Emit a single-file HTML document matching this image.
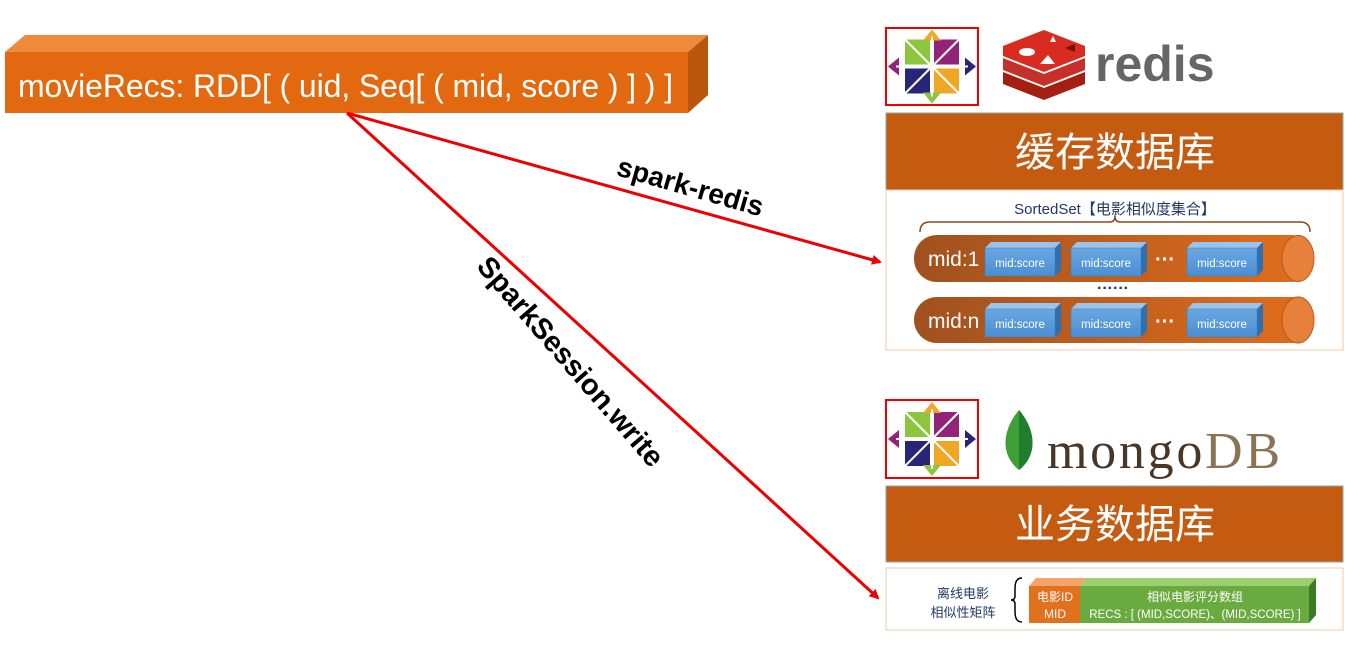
<!DOCTYPE html>
<html><head><meta charset="utf-8">
<style>
body{margin:0;width:1363px;height:652px;background:#fff;position:relative;overflow:hidden;font-family:"Liberation Sans","Noto Sans CJK SC",sans-serif}
.abs{position:absolute}
</style></head><body>
<svg class="abs" style="left:0;top:0" width="1363" height="652">
<defs>
<marker id="ah" markerWidth="10" markerHeight="10" refX="8" refY="5" orient="auto" markerUnits="userSpaceOnUse"><path d="M0,0 L10,5 L0,10 Z" fill="#e00"/></marker>
<linearGradient id="cyl" x1="0" x2="1"><stop offset="0" stop-color="#a0511e"/><stop offset="1" stop-color="#e26d1c"/></linearGradient>
<linearGradient id="blu" x1="0" y1="0" x2="0" y2="1"><stop offset="0" stop-color="#6aa7e0"/><stop offset="1" stop-color="#4a8fd4"/></linearGradient>
</defs>
<g>
<polygon points="5,52 25,35 708,35 688,52" fill="#ee8a3a"/>
<polygon points="688,52 708,35 708,95 688,113" fill="#b9570e"/>
<rect x="5" y="52" width="683" height="61" fill="#e2690f"/>
<text x="18" y="97" fill="#fff" font-size="32" textLength="655" font-family="Liberation Sans, sans-serif">movieRecs: RDD[ ( uid, Seq[ ( mid, score ) ] ) ]</text>
</g>
<line x1="347" y1="113" x2="880" y2="262" stroke="#e00" stroke-width="3" marker-end="url(#ah)"/>
<line x1="347" y1="113" x2="878" y2="598" stroke="#e00" stroke-width="3" marker-end="url(#ah)"/>
<text x="690" y="196" font-size="28" font-weight="bold" text-anchor="middle" transform="rotate(16 690 188)">spark-redis</text>
<text x="570" y="371" font-size="29" font-weight="bold" text-anchor="middle" transform="rotate(49 570 362)">SparkSession.write</text>

<g transform="translate(886,28)">
<rect x="0" y="0" width="92" height="77" fill="#fff" stroke="#e00" stroke-width="2"/>
<g transform="translate(46,38.5)">
<rect x="-27" y="-27" width="25" height="25" fill="#8cc63f"/><rect x="2" y="-27" width="25" height="25" fill="#932279"/>
<rect x="-27" y="2" width="25" height="25" fill="#262577"/><rect x="2" y="2" width="25" height="25" fill="#efa724"/>
<polygon points="0,-37 -9,-26 9,-26" fill="#efa724"/><polygon points="44,0 33,-9 33,9" fill="#262577"/>
<polygon points="0,37 -9,26 9,26" fill="#8cc63f"/><polygon points="-44,0 -33,-9 -33,9" fill="#932279"/>
<line x1="-27" y1="-27" x2="27" y2="27" stroke="#fff" stroke-width="2"/><line x1="27" y1="-27" x2="-27" y2="27" stroke="#fff" stroke-width="2"/>
<line x1="0" y1="-30" x2="0" y2="30" stroke="#fff" stroke-width="2"/><line x1="-36" y1="0" x2="36" y2="0" stroke="#fff" stroke-width="2"/>
</g></g>
<g transform="translate(886,400)">
<rect x="0" y="0" width="92" height="78" fill="#fff" stroke="#e00" stroke-width="2"/>
<g transform="translate(46,39)">
<rect x="-27" y="-27" width="25" height="25" fill="#8cc63f"/><rect x="2" y="-27" width="25" height="25" fill="#932279"/>
<rect x="-27" y="2" width="25" height="25" fill="#262577"/><rect x="2" y="2" width="25" height="25" fill="#efa724"/>
<polygon points="0,-37 -9,-26 9,-26" fill="#efa724"/><polygon points="44,0 33,-9 33,9" fill="#262577"/>
<polygon points="0,37 -9,26 9,26" fill="#8cc63f"/><polygon points="-44,0 -33,-9 -33,9" fill="#932279"/>
<line x1="-27" y1="-27" x2="27" y2="27" stroke="#fff" stroke-width="2"/><line x1="27" y1="-27" x2="-27" y2="27" stroke="#fff" stroke-width="2"/>
<line x1="0" y1="-30" x2="0" y2="30" stroke="#fff" stroke-width="2"/><line x1="-36" y1="0" x2="36" y2="0" stroke="#fff" stroke-width="2"/>
</g></g>

<g>
<path d="M1003,72 L1044,88 L1085,72 L1085,84 L1044,100 L1003,84 Z" fill="#a41e11"/>
<path d="M1003,58 L1044,74 L1085,58 L1085,70 L1044,86 L1003,70 Z" fill="#c6302b"/>
<path d="M1003,46 L1044,30 L1085,46 L1085,56 L1044,72 L1003,56 Z" fill="#d82c20"/>
<ellipse cx="1027" cy="52" rx="8" ry="4" fill="#fff"/><polygon points="1040,64 1048,55 1055,64" fill="#fff"/>
<polygon points="1050,42 1053,36 1056,42" fill="#fff"/><polygon points="1065,48 1075,44 1075,52" fill="#7a0c00"/>
<text x="1095" y="81" font-size="50" font-weight="bold" fill="#666">redis</text>
</g>
<g>
<path d="M1019,410 C1002,430 1000,455 1019,470 C1038,455 1036,430 1019,410 Z" fill="#3fa037"/>
<path d="M1019,410 C1036,430 1038,455 1019,470 Z" fill="#1f7f2f"/>
<text x="1047" y="468" font-size="52" textLength="233" font-family="Liberation Serif, serif" fill="#4a3626">mongo<tspan fill="#8b7355">DB</tspan></text>
</g>

<rect x="886" y="113" width="457" height="77" fill="#c55a11" stroke="#8aa" stroke-width="1"/>
<text x="1115" y="166" font-size="40" fill="#fff" text-anchor="middle" font-family="Noto Sans CJK SC, sans-serif">缓存数据库</text>
<rect x="886" y="190" width="457" height="160" fill="#fff" stroke="#f4c9aa" stroke-width="1"/>
<text x="1115" y="214" font-size="15" fill="#1f3864" text-anchor="middle" font-family="Liberation Sans, Noto Sans CJK SC, sans-serif">SortedSet【电影相似度集合】</text>
<path d="M920,232 Q920,222 930,222 L1110,222 Q1115,222 1115,216 Q1115,222 1120,222 L1300,222 Q1310,222 1310,232" fill="none" stroke="#8a4a20" stroke-width="1.5"/>
<g>
<rect x="914" y="235" width="400" height="47" rx="23" fill="url(#cyl)"/>
<ellipse cx="1298" cy="258.5" rx="16" ry="23" fill="#e5813a" stroke="#b85a17"/>
<text x="928" y="266" font-size="21" fill="#fff">mid:1</text>
</g>
<g>
<rect x="914" y="297" width="400" height="46" rx="23" fill="url(#cyl)"/>
<ellipse cx="1298" cy="320" rx="16" ry="23" fill="#e5813a" stroke="#b85a17"/>
<text x="928" y="328" font-size="21" fill="#fff">mid:n</text>
</g>
<text x="1113" y="293" font-size="16" fill="#1f3864" text-anchor="middle" font-weight="bold">······</text>
<text x="1165" y="266" font-size="20" fill="#fff" text-anchor="middle" font-weight="bold">···</text>
<text x="1165" y="328" font-size="20" fill="#fff" text-anchor="middle" font-weight="bold">···</text>
<g id="boxes"></g>

<rect x="886" y="486" width="457" height="76" fill="#c55a11" stroke="#8aa" stroke-width="1"/>
<text x="1115" y="538" font-size="40" fill="#fff" text-anchor="middle" font-family="Noto Sans CJK SC, sans-serif">业务数据库</text>
<rect x="886" y="568" width="457" height="62" fill="#fff" stroke="#f4c9aa" stroke-width="1"/>
<text x="963" y="598" font-size="13" fill="#1f3864" text-anchor="middle" font-family="Noto Sans CJK SC, sans-serif">离线电影</text>
<text x="963" y="617" font-size="13" fill="#1f3864" text-anchor="middle" font-family="Noto Sans CJK SC, sans-serif">相似性矩阵</text>
<path d="M1022,578 Q1015,578 1015,588 L1015,596 Q1015,600 1011,600 Q1015,600 1015,604 L1015,612 Q1015,622 1022,622" fill="none" stroke="#000" stroke-width="1.5"/>
<g>
<polygon points="1029,586 1036,578 1087,578 1080,586" fill="#f4a46a"/>
<rect x="1029" y="586" width="51" height="37" fill="#e2711e"/>
<polygon points="1080,586 1087,578 1316,578 1309,586" fill="#9ccf6e"/>
<polygon points="1309,586 1316,578 1316,615 1309,623" fill="#3d7a26"/>
<rect x="1080" y="586" width="229" height="37" fill="#6aab40"/>
<text x="1055" y="601" font-size="12" fill="#fff" text-anchor="middle" font-family="Liberation Sans, Noto Sans CJK SC, sans-serif">电影ID</text>
<text x="1055" y="618" font-size="12" fill="#fff" text-anchor="middle">MID</text>
<text x="1195" y="601" font-size="12" fill="#fff" text-anchor="middle" font-family="Noto Sans CJK SC, sans-serif">相似电影评分数组</text>
<text x="1195" y="618" font-size="11.5" fill="#fff" text-anchor="middle" font-family="Liberation Sans, Noto Sans CJK SC, sans-serif">RECS : [ (MID,SCORE)、(MID,SCORE) ]</text>
</g>
</svg>
<script>
const NS='http://www.w3.org/2000/svg';
const g=document.getElementById('boxes');
const xs=[985,1071,1187], ys=[248,309];
ys.forEach(y=>xs.forEach(x=>{
 const b=document.createElementNS(NS,'g');
 
 
 b.innerHTML=`<polygon points="${x},${y} ${x+6},${y-6} ${x+76},${y-6} ${x+70},${y}" fill="#9cc3ea"/>
 <polygon points="${x+70},${y} ${x+76},${y-6} ${x+76},${y+22} ${x+70},${y+28}" fill="#2e6fb0"/>
 <rect x="${x}" y="${y}" width="70" height="28" fill="url(#blu)" stroke="#3a7cc0" stroke-width="0.5"/>
 <text x="${x+35}" y="${y+19}" font-size="11.5" fill="#fff" text-anchor="middle">mid:score</text>`;
 g.appendChild(b);
}));
</script>
</body></html>
